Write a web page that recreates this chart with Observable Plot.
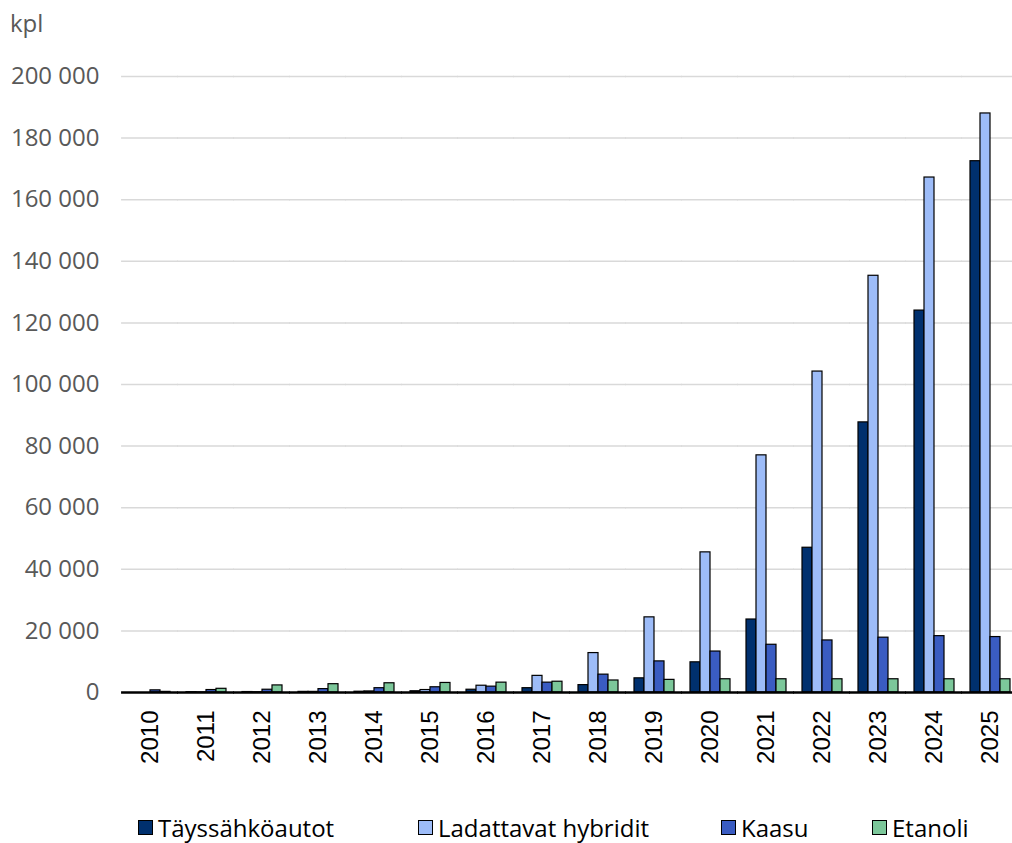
<!DOCTYPE html>
<html><head><meta charset="utf-8">
<script src="https://cdn.jsdelivr.net/npm/d3@7"></script>
<script src="https://cdn.jsdelivr.net/npm/@observablehq/plot@0.6"></script>
<style>
body{margin:0;background:#fff;}
#wrap{position:relative;width:1012px;height:843px;overflow:hidden;}
#unit{position:absolute;left:10px;top:6px;font:24px "Open Sans";color:#595959;}
#chart{position:absolute;left:0;top:0;}
#legend{position:absolute;top:813px;left:0;width:1012px;height:28px;}
.item{position:absolute;top:0;height:28px;line-height:28px;display:flex;align-items:center;font:24px "Open Sans";color:#000;white-space:nowrap;}
.sw{width:13px;height:13px;border:1px solid #000;margin-right:5px;}
</style></head><body>
<div id="wrap"><div id="chart"></div><div id="unit">kpl</div><div id="legend"></div></div>
<script>
const years = ["2010","2011","2012","2013","2014","2015","2016","2017","2018","2019","2020","2021","2022","2023","2024","2025"];
const series = ["Täyssähköautot","Ladattavat hybridit","Kaasu","Etanoli"];
const colors = ["#00306e","#9dbcf8","#3a5cc2","#7cc79a"];
const taysSahko = [0,100,150,200,250,400,900,1400,2400,4600,9800,23700,47000,87700,124000,172500];
const ladattavat = [0,50,100,200,350,800,2200,5400,12800,24400,45500,77000,104200,135300,167200,188000];
const kaasu = [700,800,900,1100,1400,1700,1900,3200,5800,10100,13300,15500,16900,17800,18300,18000];
const etanoli = [200,1200,2300,2700,3000,3100,3200,3500,3900,4100,4300,4300,4300,4300,4300,4300];
const yTicks = [0,20000,40000,60000,80000,100000,120000,140000,160000,180000,200000];
const legendLeft = [138,418,721,872];

const valuesBySeries = [taysSahko, ladattavat, kaasu, etanoli];
const data = [];
years.forEach((y, i) => series.forEach((s, j) => data.push({year: y, series: s, value: valuesBySeries[j][i]})));

const fmt = d => d3.format(",")(d).replace(/,/g, " ");

const fxRange = [118, 1021], pIn = 0.26, pOut = 0.13;
const step = (fxRange[1] - fxRange[0]) / (years.length - pIn + 2 * pOut);
const ext = -(step * pIn / 2 + 0.6);

const chart = Plot.plot({
  width: 1012,
  height: 790,
  marginTop: 76,
  marginBottom: 98,
  marginLeft: 118,
  marginRight: 0,
  style: {fontFamily: "Liberation Sans, Arial, sans-serif", background: "#fff"},
  fx: {domain: years, range: fxRange, paddingInner: pIn, paddingOuter: pOut, label: null},
  x: {domain: series, padding: 0, axis: null},
  y: {domain: [0, 200000], label: null},
  color: {domain: series, range: colors},
  marks: [
    Plot.ruleY(yTicks.slice(1), {stroke: "#d9d9d9", strokeWidth: 1.5, insetLeft: ext, insetRight: ext}),
    Plot.barY(data, {fx: "year", x: "series", y: "value", fill: "series", stroke: "#000", strokeWidth: 1.2}),
    Plot.ruleY([0], {stroke: "#000", strokeWidth: 2.5, insetLeft: ext, insetRight: ext}),
    Plot.axisY({ticks: yTicks, tickFormat: fmt, tickSize: 0, tickPadding: 30, fontSize: 24, fill: "#595959", fontFamily: "Open Sans", label: null}),
    Plot.axisFx({anchor: "bottom", tickRotate: -90, tickSize: 0, tickPadding: 18, fontSize: 24, fill: "#000", label: null})
  ]
});
document.getElementById("chart").appendChild(chart);

const legend = document.getElementById("legend");
series.forEach((s, i) => {
  const it = document.createElement("div");
  it.className = "item";
  it.style.left = legendLeft[i] + "px";
  const sw = document.createElement("span");
  sw.className = "sw";
  sw.style.background = colors[i];
  it.appendChild(sw);
  it.appendChild(document.createTextNode(s));
  legend.appendChild(it);
});
</script>
</body></html>
